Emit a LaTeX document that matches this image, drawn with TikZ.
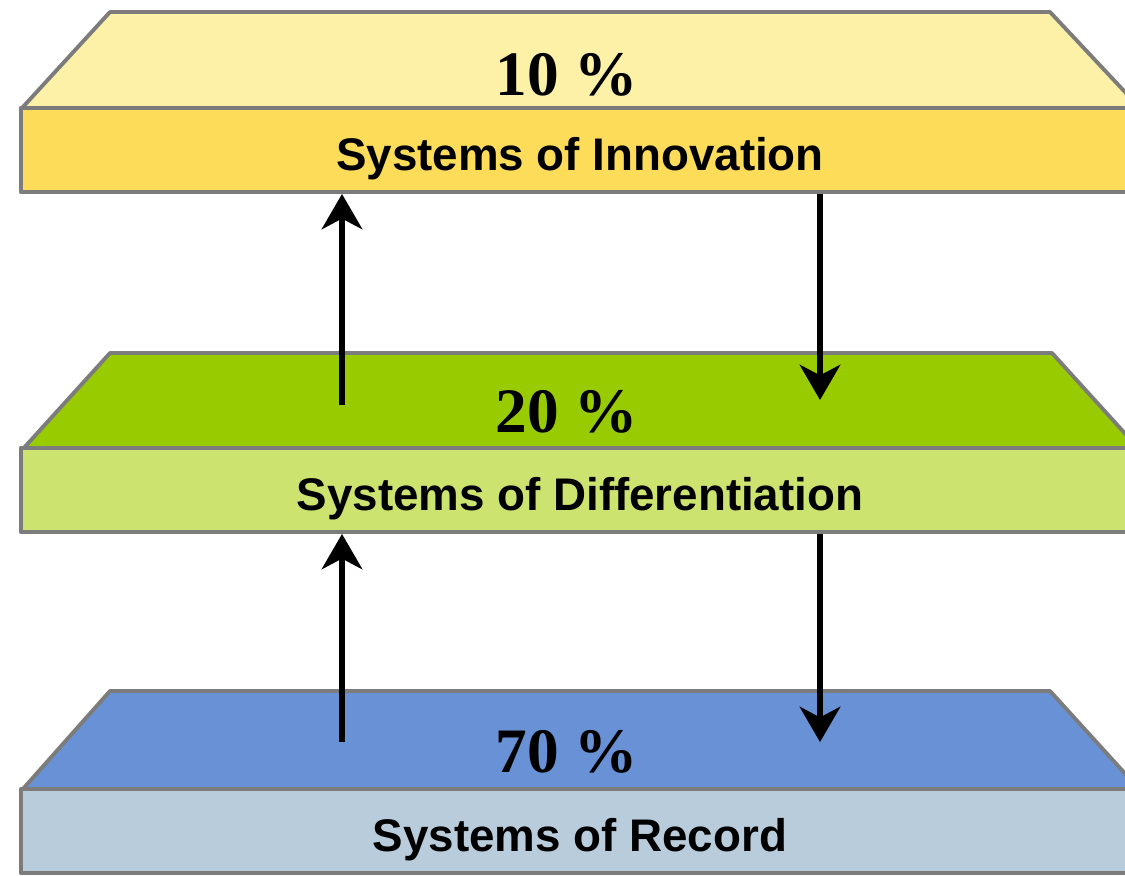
\documentclass[tikz,border=0pt]{standalone}
\usepackage{fontspec}
\newfontfamily\labelfont{Liberation Sans}
\newfontfamily\sharefont{Liberation Serif}
\usetikzlibrary{arrows.meta}
\definecolor{innotop}{HTML}{FDF1A8}
\definecolor{innofront}{HTML}{FDDC5A}
\definecolor{difftop}{HTML}{99CC00}
\definecolor{difffront}{HTML}{CCE370}
\definecolor{rectop}{HTML}{6891D6}
\definecolor{recfront}{HTML}{B9CCDB}
\definecolor{edgegray}{HTML}{7C7C7C}
\tikzset{
  face/.style={draw=edgegray,line width=1.1pt,line join=round},
  front/.style={face,rectangle,minimum width=11.18cm,minimum height=0.84cm,inner sep=0pt,
    text height=12.5pt,text depth=1pt,
    font=\labelfont\bfseries\fontsize{13}{15}\selectfont},
  share/.style={font=\sharefont\bfseries\fontsize{18}{20}\selectfont},
  flow/.style={line width=1.9pt,-{Stealth[length=10pt,width=11.5pt,inset=3pt]}}
}
\begin{document}
\begin{tikzpicture}[x=0.01cm,y=-0.01cm]
		\useasboundingbox (0,0) rectangle (1125,875);

		\draw[face,fill=rectop] (110,691) -- (1050,691) -- (1140,790) -- (22,790) -- cycle;
		\draw (580,831) node (rec)[front,fill=recfront]{Systems of Record};
		\draw (567,752) node (p70)[share]{70 \%};

		\draw[face,fill=difftop] (110,353) -- (1052,353) -- (1140,450) -- (22,450) -- cycle;
		\draw (580,490) node (diff)[front,fill=difffront]{Systems of Differentiation};
		\draw (567,412) node (p20)[share]{20 \%};

		\draw[face,fill=innotop] (110,12) -- (1050,12) -- (1140,108) -- (22,108) -- cycle;
		\draw (580,150) node (inno)[front,fill=innofront]{Systems of Innovation};
		\draw (567,75) node (p10)[share]{10 \%};

		\draw (342,405) coordinate (u1);
		\draw (820,400) coordinate (d1);
		\draw (342,742) coordinate (u2);
		\draw (820,742) coordinate (d2);
		\draw[flow] (u1)--(inno.south -| u1);
		\draw[flow] (inno.south -| d1)--(d1);
		\draw[flow] (u2)--(diff.south -| u2);
		\draw[flow] (diff.south -| d2)--(d2);
	\end{tikzpicture}
\end{document}
